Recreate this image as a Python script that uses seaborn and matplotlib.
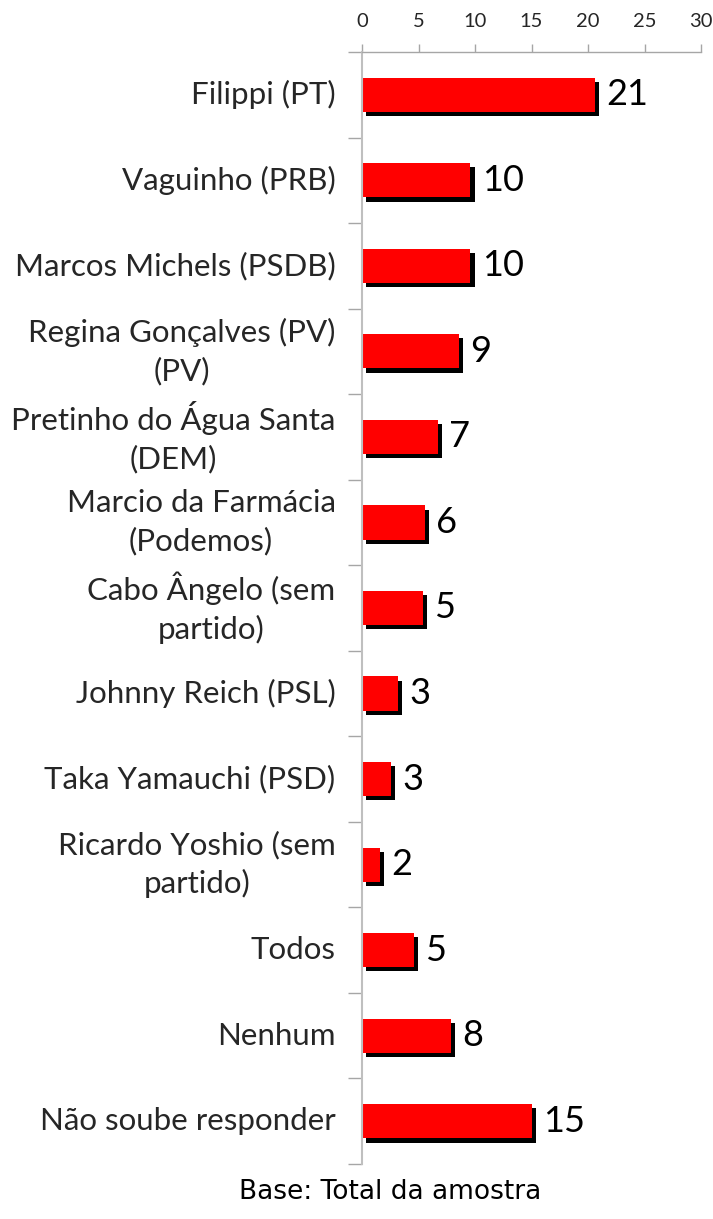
import pandas as pd
import matplotlib
matplotlib.use("Agg")
import matplotlib.pyplot as plt
import matplotlib.patheffects as pe
from matplotlib.ticker import FixedLocator
import seaborn as sns

# Chart data
candidates = [
    "Filippi (PT)",
    "Vaguinho (PRB)",
    "Marcos Michels (PSDB)",
    "Regina Gonçalves (PV)\n(PV)",
    "Pretinho do Água Santa\n(DEM)",
    "Marcio da Farmácia\n(Podemos)",
    "Cabo Ângelo (sem\npartido)",
    "Johnny Reich (PSL)",
    "Taka Yamauchi (PSD)",
    "Ricardo Yoshio (sem\npartido)",
    "Todos",
    "Nenhum",
    "Não soube responder",
]
values = [20.6, 9.6, 9.6, 8.6, 6.7, 5.6, 5.4, 3.2, 2.6, 1.6, 4.6, 7.9, 15.0]
value_labels = ["21", "10", "10", "9", "7", "6", "5", "3", "3", "2", "5", "8", "15"]
x_ticks = [0, 5, 10, 15, 20, 25, 30]

df = pd.DataFrame({"candidato": candidates, "pct": values})

sns.set_theme(style="white")
plt.rcParams["font.family"] = ["Lato", "DejaVu Sans"]

fig = plt.figure(figsize=(7.13, 12.19), dpi=100)
ax = fig.add_axes([362 / 713, 1 - 1164 / 1219, (701 - 362) / 713, (1164 - 52) / 1219])

sns.barplot(data=df, x="pct", y="candidato", orient="h", color="#FF0000",
            width=0.40, saturation=1, ax=ax)

# black drop shadow under each bar
shadow = [pe.SimplePatchShadow(offset=(2.9, -3.0), shadow_rgbFace="black", alpha=1.0),
          pe.Normal()]
for bar in ax.patches:
    bar.set_linewidth(0)
    bar.set_path_effects(shadow)

ax.bar_label(ax.containers[0], labels=value_labels, padding=8, fontsize=26,
             color="black", family=["Lato", "DejaVu Sans"])

# axes styling
ax.set_xlim(0, 30)
ax.set_ylim(len(candidates) - 0.5, -0.5)
ax.xaxis.tick_top()
ax.set_xticks(x_ticks)
ax.tick_params(axis="x", length=6, width=1, color="#A6A6A6", labelsize=14.5, pad=10)
ax.set_xlabel("")
ax.set_ylabel("")

ax.yaxis.set_minor_locator(FixedLocator([i - 0.5 for i in range(len(candidates) + 1)]))
ax.tick_params(axis="y", which="major", length=0, labelsize=22.5, pad=19)
ax.tick_params(axis="y", which="minor", left=True, length=10, width=1, color="#A6A6A6")
for lbl in ax.get_yticklabels():
    lbl.set_multialignment("center")
    lbl.set_linespacing(1.4)
    lbl.set_verticalalignment("center")

for side in ["right", "bottom"]:
    ax.spines[side].set_visible(False)
ax.spines["left"].set_color("#BFBFBF")
ax.spines["left"].set_linewidth(1.5)
ax.spines["top"].set_color("#A6A6A6")
ax.spines["top"].set_linewidth(1)

fig.text(390 / 713, 1 - 1192 / 1219, "Base: Total da amostra", ha="center", va="center",
         fontsize=19, family="DejaVu Sans", color="black")

fig.savefig("out.png", dpi=100, facecolor="white")
